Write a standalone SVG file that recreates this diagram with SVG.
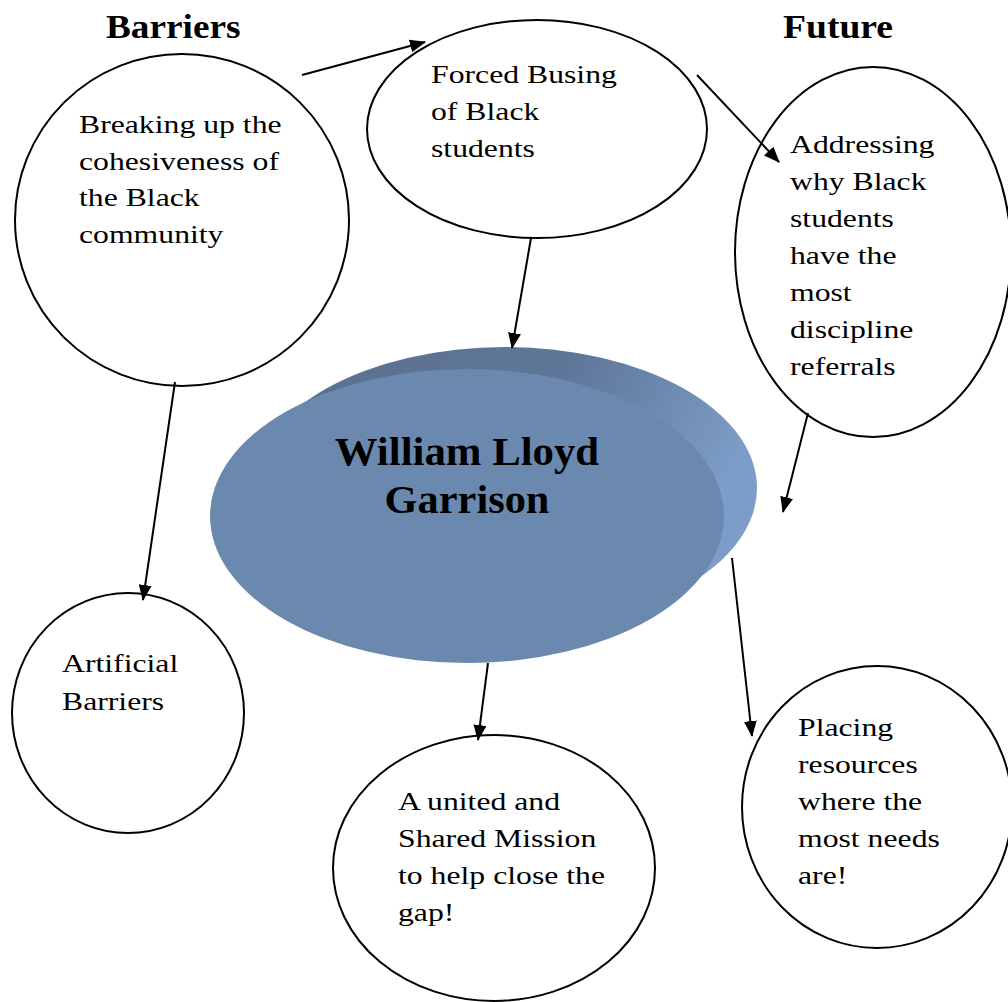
<svg xmlns="http://www.w3.org/2000/svg" width="1008" height="1002" viewBox="0 0 1008 1002">
<style>
.n{fill:#fff;stroke:#000;stroke-width:2}
.t{font-family:"Liberation Serif","Times New Roman",serif;font-size:26px;fill:#000}
.h{font-family:"Liberation Serif","Times New Roman",serif;font-size:33px;font-weight:bold;fill:#000}
.c{font-family:"Liberation Serif","Times New Roman",serif;font-size:40px;font-weight:bold;fill:#000;text-anchor:middle}
.e{stroke:#000;stroke-width:2;fill:none;marker-end:url(#a)}
</style>
<defs>
<marker id="a" markerWidth="16" markerHeight="13" refX="15" refY="6.5" orient="auto" markerUnits="userSpaceOnUse" viewBox="0 0 16 13">
<path d="M0,0 L16,6.5 L0,13 z" fill="#000"/>
</marker>
<linearGradient id="bk" x1="0" y1="0" x2="1" y2="0.3">
<stop offset="0" stop-color="#5a6f8e"/>
<stop offset="0.6" stop-color="#5e7799"/>
<stop offset="1" stop-color="#7d9dc8"/>
</linearGradient>
</defs>
<rect width="1008" height="1002" fill="#fff"/>
<text class="h" transform="translate(106,38) scale(1.13,1)">Barriers</text>
<text class="h" transform="translate(783,38) scale(1.14,1)">Future</text>
<g id="breaking">
<ellipse class="n" cx="182" cy="220" rx="167" ry="166"/>
<text class="t" transform="translate(79,133) scale(1.22,1)">Breaking up the</text>
<text class="t" transform="translate(79,170) scale(1.22,1)">cohesiveness of</text>
<text class="t" transform="translate(79,206) scale(1.22,1)">the Black</text>
<text class="t" transform="translate(79,243) scale(1.22,1)">community</text>
</g>
<g id="busing">
<ellipse class="n" cx="537" cy="129" rx="170" ry="109"/>
<text class="t" transform="translate(431,83) scale(1.22,1)">Forced Busing</text>
<text class="t" transform="translate(431,120) scale(1.22,1)">of Black</text>
<text class="t" transform="translate(431,157) scale(1.22,1)">students</text>
</g>
<g id="addressing">
<ellipse class="n" cx="873" cy="252" rx="138" ry="185"/>
<text class="t" transform="translate(790,153) scale(1.22,1)">Addressing</text>
<text class="t" transform="translate(790,190) scale(1.22,1)">why Black</text>
<text class="t" transform="translate(790,227) scale(1.22,1)">students</text>
<text class="t" transform="translate(790,264) scale(1.22,1)">have the</text>
<text class="t" transform="translate(790,301) scale(1.22,1)">most</text>
<text class="t" transform="translate(790,338) scale(1.22,1)">discipline</text>
<text class="t" transform="translate(790,375) scale(1.22,1)">referrals</text>
</g>
<g id="artificial">
<ellipse class="n" cx="128" cy="713" rx="116" ry="120"/>
<text class="t" transform="translate(62,672) scale(1.22,1)">Artificial</text>
<text class="t" transform="translate(62,710) scale(1.22,1)">Barriers</text>
</g>
<g id="united">
<ellipse class="n" cx="494" cy="868" rx="161" ry="133"/>
<text class="t" transform="translate(398,810) scale(1.22,1)">A united and</text>
<text class="t" transform="translate(398,847) scale(1.22,1)">Shared Mission</text>
<text class="t" transform="translate(398,884) scale(1.22,1)">to help close the</text>
<text class="t" transform="translate(398,921) scale(1.22,1)">gap!</text>
</g>
<g id="placing">
<ellipse class="n" cx="877" cy="807" rx="135" ry="141"/>
<text class="t" transform="translate(798,736) scale(1.22,1)">Placing</text>
<text class="t" transform="translate(798,773) scale(1.22,1)">resources</text>
<text class="t" transform="translate(798,810) scale(1.22,1)">where the</text>
<text class="t" transform="translate(798,847) scale(1.22,1)">most needs</text>
<text class="t" transform="translate(798,884) scale(1.22,1)">are!</text>
</g>
<g id="center">
<ellipse cx="505" cy="488" rx="252" ry="141" fill="url(#bk)"/>
<ellipse cx="467" cy="516" rx="257" ry="147" fill="#6b89ae"/>
<text class="c" transform="translate(467,465) scale(1.07,1)">William Lloyd</text>
<text class="c" transform="translate(467,513) scale(1.06,1)">Garrison</text>
</g>
<g id="connectors">
<line class="e" x1="302" y1="75" x2="425" y2="42"/>
<line class="e" x1="697" y1="75" x2="779" y2="162"/>
<line class="e" x1="531" y1="238" x2="512" y2="348"/>
<line class="e" x1="175" y1="382" x2="143" y2="600"/>
<line class="e" x1="808" y1="413" x2="783" y2="512"/>
<line class="e" x1="732" y1="558" x2="752" y2="736"/>
<line class="e" x1="488" y1="663" x2="478" y2="740"/>
</g>
</svg>
